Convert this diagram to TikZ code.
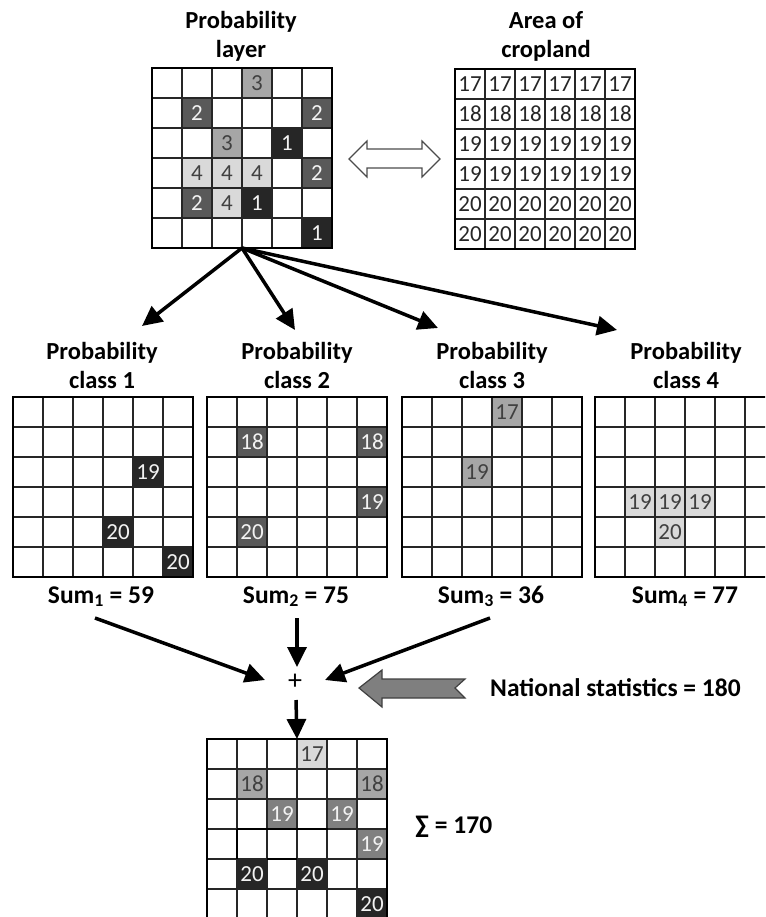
\documentclass[tikz,border=0pt]{standalone}
\usepackage{fontspec}
\setmainfont{Carlito}
\usetikzlibrary{arrows.meta}
\definecolor{pone}{HTML}{262626}
\definecolor{ptwo}{HTML}{595959}
\definecolor{pthree}{HTML}{A6A6A6}
\definecolor{pfour}{HTML}{D9D9D9}
\definecolor{bnine}{HTML}{808080}
\definecolor{lightnum}{HTML}{F2F2F2}
\definecolor{darknum}{HTML}{404040}
\definecolor{arrowgray}{HTML}{7F7F7F}
\tikzset{
  titletext/.style={font=\bfseries\fontsize{24.5}{29.5}\selectfont, align=center, inner sep=0pt, anchor=north},
  sumlabel/.style={font=\bfseries\fontsize{25.5}{30}\selectfont, inner sep=0pt, anchor=base},
  frame/.style={minimum width=180pt, minimum height=180pt, inner sep=0pt, outer sep=0pt, anchor=north west},
  cellbox/.style={minimum width=30pt, minimum height=30pt, inner sep=0pt, outer sep=0pt, anchor=north west,
     font=\fontsize{23}{26}\selectfont, text=black!90},
  kone/.style={fill=pone, text=lightnum},
  ktwo/.style={fill=ptwo, text=lightnum},
  kthree/.style={fill=pthree, text=darknum},
  kfour/.style={fill=pfour, text=darknum},
  knine/.style={fill=bnine, text=lightnum},
  kwhite/.style={text=black!85},
  innerline/.style={line width=1.2pt, draw=black!85},
  outerline/.style={line width=2.6pt, draw=black},
  bigarrow/.style={line width=3.5pt, draw=black, -{Triangle[length=20pt,width=19pt]}},
  hollowarrow/.style={fill=white, draw=black!70, line width=1.2pt, line join=miter},
  grayarrow/.style={fill=arrowgray, draw=black!75, line width=1.2pt, line join=miter},
}
\newcommand{\gridframe}[3]{\node[frame] (#1) at (#2,#3) {};}
\newcommand{\gridlines}[2]{%
  \foreach \k in {1,...,5}{%
    \draw[innerline] ({#1+\k*30},#2) -- ({#1+\k*30},{#2+180});
    \draw[innerline] (#1,{#2+\k*30}) -- ({#1+180},{#2+\k*30});
  }%
  \draw[outerline] (#1,#2) rectangle ({#1+180},{#2+180});}
\newcommand{\pcell}[5]{%
  \node[cellbox,#4] (#1-#2-#3) at ([shift={({(#2-1)*30},{(#3-1)*30})}]#1.north west) {#5};}
\begin{document}
\begin{tikzpicture}[x=1pt,y=-1pt]
\useasboundingbox (0,0) rectangle (765,917);
\clip (0,0) rectangle (765,917);

% ---------- titles ----------
\node[titletext] (tlayer) at (241,11) {Probability\\layer};
\node[titletext] (tcrop) at (546,11) {Area of\\cropland};
\node[titletext] (tc1) at (102,342) {Probability\\class 1};
\node[titletext] (tc2) at (297,342) {Probability\\class 2};
\node[titletext] (tc3) at (492,342) {Probability\\class 3};
\node[titletext] (tc4) at (686,342) {Probability\\class 4};

% ---------- probability layer ----------
\gridframe{layer}{152}{68}
\pcell{layer}{4}{1}{kthree}{3}
\pcell{layer}{2}{2}{ktwo}{2}
\pcell{layer}{6}{2}{ktwo}{2}
\pcell{layer}{3}{3}{kthree}{3}
\pcell{layer}{5}{3}{kone}{1}
\pcell{layer}{2}{4}{kfour}{4}
\pcell{layer}{3}{4}{kfour}{4}
\pcell{layer}{4}{4}{kfour}{4}
\pcell{layer}{6}{4}{ktwo}{2}
\pcell{layer}{2}{5}{ktwo}{2}
\pcell{layer}{3}{5}{kfour}{4}
\pcell{layer}{4}{5}{kone}{1}
\pcell{layer}{6}{6}{kone}{1}
\gridlines{152}{68}

% ---------- area of cropland ----------
\gridframe{crop}{455}{69}
\foreach \c in {1,...,6}{
  \pcell{crop}{\c}{1}{kwhite}{17}
  \pcell{crop}{\c}{2}{kwhite}{18}
  \pcell{crop}{\c}{3}{kwhite}{19}
  \pcell{crop}{\c}{4}{kwhite}{19}
  \pcell{crop}{\c}{5}{kwhite}{20}
  \pcell{crop}{\c}{6}{kwhite}{20}
}
\gridlines{455}{69}

% double arrow
\draw[hollowarrow] (349,159) -- (367,141) -- (367,149) -- (422,149) -- (422,141) -- (440,159)
   -- (422,177) -- (422,168) -- (367,168) -- (367,177) -- cycle;

% ---------- class grids ----------
\gridframe{cone}{13}{397}
\pcell{cone}{5}{3}{kone}{19}
\pcell{cone}{4}{5}{kone}{20}
\pcell{cone}{6}{6}{kone}{20}
\gridlines{13}{397}

\gridframe{ctwo}{207}{397}
\pcell{ctwo}{2}{2}{ktwo}{18}
\pcell{ctwo}{6}{2}{ktwo}{18}
\pcell{ctwo}{6}{4}{ktwo}{19}
\pcell{ctwo}{2}{5}{ktwo}{20}
\gridlines{207}{397}

\gridframe{cthree}{402}{397}
\pcell{cthree}{4}{1}{kthree}{17}
\pcell{cthree}{3}{3}{kthree}{19}
\gridlines{402}{397}

\gridframe{cfour}{595}{397}
\pcell{cfour}{2}{4}{kfour}{19}
\pcell{cfour}{3}{4}{kfour}{19}
\pcell{cfour}{4}{4}{kfour}{19}
\pcell{cfour}{3}{5}{kfour}{20}
\gridlines{595}{397}

% ---------- arrows from layer ----------
\coordinate (aone) at (142,326);
\coordinate (atwo) at (295,330);
\coordinate (athree) at (438,328);
\coordinate (afour) at (617,330);
\draw[bigarrow] (layer.south) -- (aone);
\draw[bigarrow] (layer.south) -- (atwo);
\draw[bigarrow] (layer.south) -- (athree);
\draw[bigarrow] (layer.south) -- (afour);

% ---------- sums ----------
\node[sumlabel] (sone) at (101,603) {Sum\textsubscript{1} = 59};
\node[sumlabel] (stwo) at (296,603) {Sum\textsubscript{2} = 75};
\node[sumlabel] (sthree) at (491,603) {Sum\textsubscript{3} = 36};
\node[sumlabel] (sfour) at (685,603) {Sum\textsubscript{4} = 77};

\node[font=\fontsize{28}{30}\selectfont, inner sep=1pt] (plus) at (295,682) {+};
\coordinate (fone) at (95,618);
\coordinate (ftwo) at (297,618);
\coordinate (fthree) at (490,618);
\coordinate (pone) at (265,680);
\coordinate (ptwo) at (297,667);
\coordinate (pthree) at (325,680);
\coordinate (pout) at (296,700);
\draw[bigarrow] (fone) -- (pone);
\draw[bigarrow] (ftwo) -- (ptwo);
\draw[bigarrow] (fthree) -- (pthree);

% national statistics
\draw[grayarrow] (359,688) -- (382,670) -- (382,679) -- (465,679) -- (455,688) -- (465,698)
   -- (382,698) -- (382,707) -- cycle;
\node[sumlabel, anchor=base west] (natstat) at (490,696) {National statistics = 180};

% ---------- result grid ----------
\gridframe{result}{207}{739}
\draw[bigarrow] (pout) -- (result.north);
\pcell{result}{4}{1}{kfour}{17}
\pcell{result}{2}{2}{kthree}{18}
\pcell{result}{6}{2}{kthree}{18}
\pcell{result}{3}{3}{knine}{19}
\pcell{result}{5}{3}{knine}{19}
\pcell{result}{6}{4}{knine}{19}
\pcell{result}{2}{5}{kone}{20}
\pcell{result}{4}{5}{kone}{20}
\pcell{result}{6}{6}{kone}{20}
\gridlines{207}{739}
\draw[line width=2.2pt] (237,829) -- (328,829);
\draw[line width=2.2pt] (237,829) -- (237,859);
\draw[line width=2.2pt] (267,859) -- (297,859);

\node[sumlabel, anchor=base west] (total) at (415,833) {∑ = 170};
\end{tikzpicture}
\end{document}
